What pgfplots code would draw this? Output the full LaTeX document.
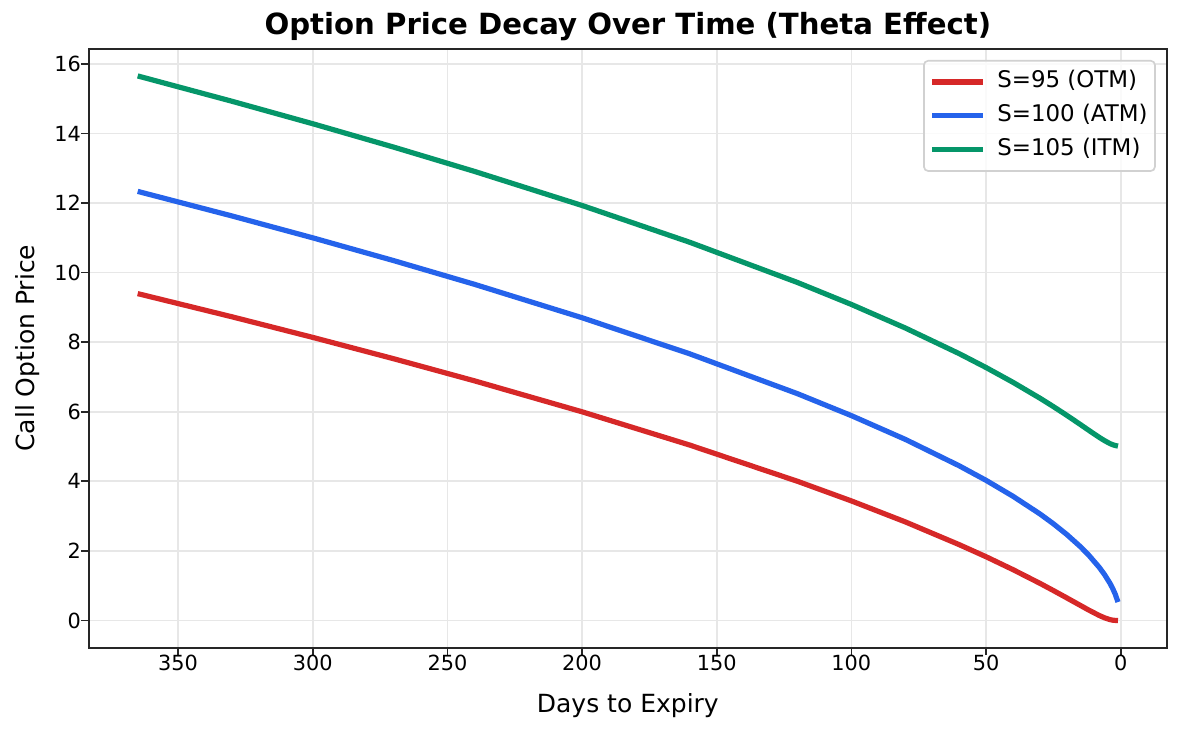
\documentclass[border=0pt]{standalone}
\usepackage{pgfplots}
\pgfplotsset{compat=1.18}
\usepackage{fontspec}
\setmainfont{DejaVu Sans}
\definecolor{otm}{HTML}{D62828}
\definecolor{atm}{HTML}{2563EB}
\definecolor{itm}{HTML}{059669}
\definecolor{gridgray}{RGB}{231,231,231}
\definecolor{spine}{RGB}{38,38,38}
\pgfplotstableread{
days otm atm itm
365 9.396 12.335 15.654
330 8.730 11.629 14.926
300 8.138 11.000 14.280
270 7.525 10.346 13.609
240 6.890 9.665 12.911
200 5.999 8.703 11.930
160 5.042 7.665 10.872
120 4.001 6.519 9.716
100 3.437 5.889 9.085
80 2.835 5.207 8.409
60 2.181 4.448 7.672
50 1.833 4.029 7.272
40 1.462 3.571 6.847
30 1.068 3.064 6.391
25 0.861 2.781 6.149
20 0.649 2.471 5.897
15 0.434 2.124 5.635
12 0.305 1.890 5.475
8 0.145 1.531 5.266
6 0.077 1.320 5.170
4 0.025 1.072 5.086
3 0.009 0.925 5.053
2 0.001 0.752 5.030
1 0.000 0.529 5.013
}\datatable
\begin{document}
\begin{tikzpicture}
\path[use as bounding box] (-42.58pt,-39.5pt) rectangle (524.78pt,310.9pt);
\begin{axis}[
  at={(0pt,0pt)}, anchor=south west,
  scale only axis, width=517.58pt, height=287.52pt,
  x dir=reverse,
  xmin=-17.2, xmax=383.2,
  ymin=-0.783, ymax=16.437,
  xtick={0,50,100,150,200,250,300,350},
  ytick={0,2,4,6,8,10,12,14,16},
  /pgf/number format/assume math mode=true,
  tick label style={font=\fontsize{10}{12}\selectfont, text=black},
  xticklabel style={anchor=north, inner sep=0pt},
  yticklabel style={anchor=east, inner sep=0pt},
  tick align=outside, major tick length=3.5pt,
  tick style={line width=0.8pt, color=spine},
  xtick pos=bottom, ytick pos=left,
  axis line style={line width=0.8pt, color=spine},
  grid=major,
  major grid style={line width=0.8pt, color=gridgray},
  title={\textbf{Option Price Decay Over Time (Theta Effect)}},
  title style={font=\fontsize{14}{16}\selectfont, at={([yshift=0.8pt]axis description cs:0.5,1)}, anchor=base, inner sep=0pt},
  xlabel={Days to Expiry},
  xlabel style={font=\fontsize{12}{14}\selectfont, at={([yshift=-21.6pt]axis description cs:0.5,0)}, anchor=north, inner sep=0pt},
  ylabel={Call Option Price},
  ylabel style={font=\fontsize{12}{14}\selectfont, at={([xshift=-35.4pt]axis description cs:0,0.5)}, anchor=north, inner sep=0pt, rotate=0},
  legend style={at={(1,1)}, anchor=north east, xshift=-5.4pt, yshift=-5.4pt,
    draw=black!18, line width=0.8pt, rounded corners=2pt, fill=white, fill opacity=0.8, text opacity=1,
    font=\fontsize{11}{13}\selectfont, inner xsep=2.8pt, inner ysep=2pt,
    nodes={inner xsep=0.7pt, inner ysep=3pt, text height=8pt, text depth=2.3pt},
    column sep=4.7pt},
  legend cell align=left,
  legend image code/.code={\draw[#1, line width=2.5pt] (0pt,0pt) -- (24.5pt,0pt);},
  every axis plot/.append style={line width=2.5pt, line join=round},
]
\addplot[otm, no markers] table[x=days, y=otm] {\datatable};
\addlegendentry{S=95 (OTM)}
\addplot[atm, no markers] table[x=days, y=atm] {\datatable};
\addlegendentry{S=100 (ATM)}
\addplot[itm, no markers] table[x=days, y=itm] {\datatable};
\addlegendentry{S=105 (ITM)}
\end{axis}
\end{tikzpicture}
\end{document}
